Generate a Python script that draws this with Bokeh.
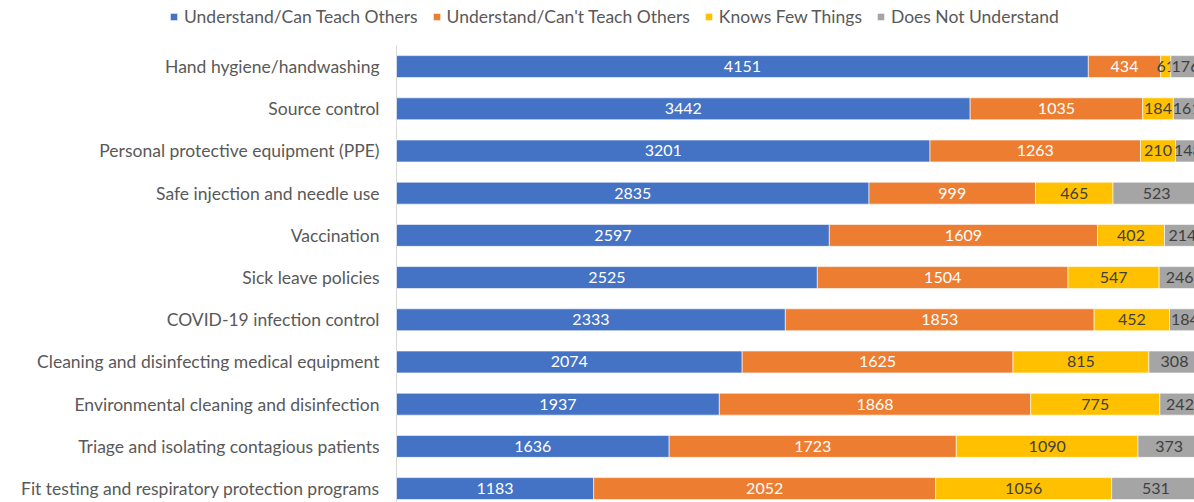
from bokeh.plotting import figure
from bokeh.models import Range1d, Legend, LegendItem, ColumnDataSource
from bokeh.core.properties import value
from bokeh.embed import file_html
from bokeh.resources import INLINE

categories = [
    "Hand hygiene/handwashing",
    "Source control",
    "Personal protective equipment (PPE)",
    "Safe injection and needle use",
    "Vaccination",
    "Sick leave policies",
    "COVID-19 infection control",
    "Cleaning and disinfecting medical equipment",
    "Environmental cleaning and disinfection",
    "Triage and isolating contagious patients",
    "Fit testing and respiratory protection programs",
]
series_names = ["Understand/Can Teach Others", "Understand/Can't Teach Others",
                "Knows Few Things", "Does Not Understand"]
can_teach = [4151, 3442, 3201, 2835, 2597, 2525, 2333, 2074, 1937, 1636, 1183]
cant_teach = [434, 1035, 1263, 999, 1609, 1504, 1853, 1625, 1868, 1723, 2052]
knows_few = [61, 184, 210, 465, 402, 547, 452, 815, 775, 1090, 1056]
not_understand = [176, 161, 148, 523, 214, 246, 184, 308, 242, 373, 531]

colors = ["#4472C4", "#ED7D31", "#FFC000", "#A5A5A5"]
label_colors = ["#FFFFFF", "#FFFFFF", "#404040", "#404040"]
FONT = "Lato"

# frame covers the whole canvas; value 0 sits at 396px, 6 units per pixel
p = figure(width=1194, height=502, output_backend="svg", toolbar_location=None,
           x_range=Range1d(-2376, 4788), y_range=Range1d(10.33, -1.566),
           min_border_left=0, min_border_right=0, min_border_top=0, min_border_bottom=0)
p.axis.visible = False
p.grid.visible = False
p.outline_line_color = None

ypos = list(range(len(categories)))

# category axis line and labels
p.segment(x0=[0], y0=[-0.5], x1=[0], y1=[len(categories)], line_color="#D9D9D9", line_width=1)
p.text(x=[0] * len(categories), y=ypos, text=categories, x_offset=-17,
       text_align="right", text_baseline="middle", text_color="#595959",
       text_font=value(FONT), text_font_size="17.5px")

series = [can_teach, cant_teach, knows_few, not_understand]
left = [0] * len(categories)
items = []
for name, vals, col, lc in zip(series_names, series, colors, label_colors):
    right = [l + v for l, v in zip(left, vals)]
    mid = [(l + r) / 2 for l, r in zip(left, right)]
    src = ColumnDataSource(dict(y=ypos, left=left, right=right, mid=mid,
                                txt=[str(v) for v in vals]))
    r = p.hbar(y="y", left="left", right="right", height=0.52, source=src,
               fill_color=col, line_color="white", line_width=0.6)
    p.text(x="mid", y="y", text="txt", source=src, text_align="center",
           text_baseline="middle", text_color=lc, text_font=value(FONT),
           text_font_size="16px")
    items.append(LegendItem(label=name, renderers=[r]))
    left = right

legend = Legend(items=items, orientation="horizontal", location=(169, 475),
                glyph_width=9, glyph_height=9, label_text_font=FONT,
                label_text_font_size="17.5px", label_text_color="#595959",
                border_line_color=None, background_fill_alpha=0,
                spacing=14, label_standoff=6, padding=0, margin=0)
p.add_layout(legend)

open("out.html", "w").write(file_html(p, INLINE))
